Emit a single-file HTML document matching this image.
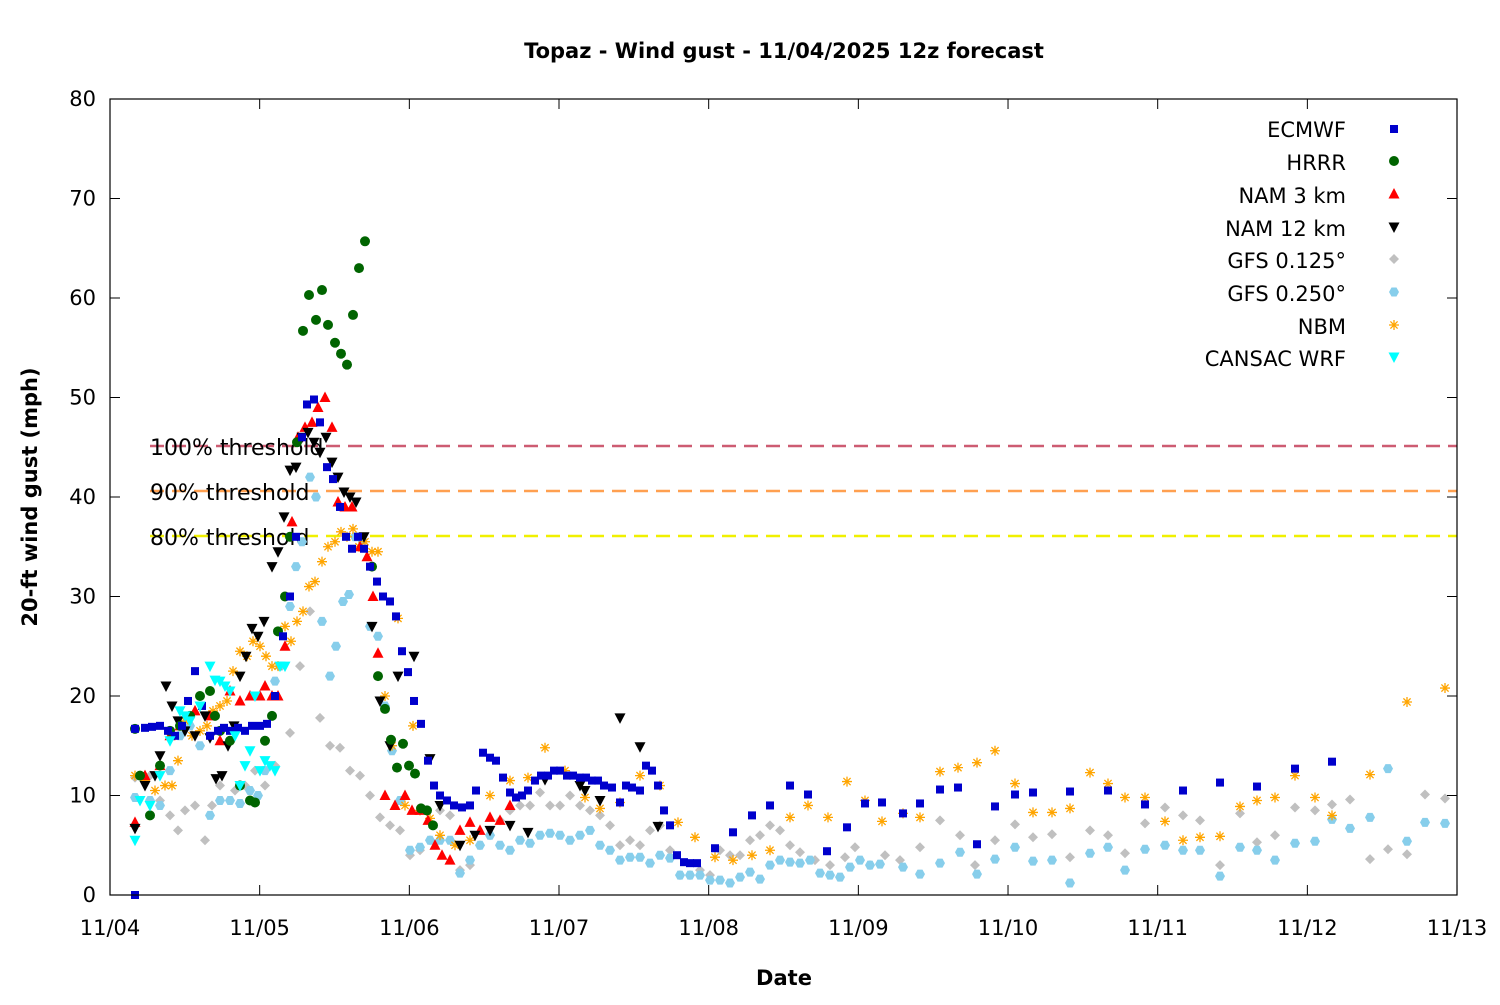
<!DOCTYPE html>
<html><head><meta charset="utf-8"><style>
html,body{margin:0;padding:0;background:#fff;}
svg text{font-family:"DejaVu Sans","Liberation Sans",sans-serif;}
</style></head><body>
<svg id="s" width="1500" height="1000" xmlns="http://www.w3.org/2000/svg">
<rect width="1500" height="1000" fill="#fff"/>
<text x="784" y="58" text-anchor="middle" font-size="21" font-weight="bold">Topaz - Wind gust - 11/04/2025 12z forecast</text>
<g id="thr">
<line x1="150" y1="446" x2="1457" y2="446" stroke="#cd5c72" stroke-width="2.5" stroke-dasharray="14,8"/>
<line x1="150" y1="491" x2="1457" y2="491" stroke="#ffa050" stroke-width="2.5" stroke-dasharray="14,8"/>
<line x1="150" y1="536" x2="1457" y2="536" stroke="#f0f000" stroke-width="2.5" stroke-dasharray="14,8"/>
<text x="150" y="455" font-size="22">100% threshold</text>
<text x="150" y="500" font-size="22">90% threshold</text>
<text x="150" y="545" font-size="22">80% threshold</text>
</g>
<g id="pts"></g>
<rect x="110" y="99" width="1347" height="796" fill="none" stroke="#000" stroke-width="1.2"/>
<g id="ax" font-size="21"></g>
<text x="784" y="985" text-anchor="middle" font-size="21" font-weight="bold">Date</text>
<text transform="translate(37,497) rotate(-90)" text-anchor="middle" font-size="21" font-weight="bold">20-ft wind gust (mph)</text>
<g font-size="21" text-anchor="end">
<text x="1346" y="137">ECMWF</text>
<text x="1346" y="170">HRRR</text>
<text x="1346" y="203">NAM 3 km</text>
<text x="1346" y="236">NAM 12 km</text>
<text x="1346" y="268">GFS 0.125°</text>
<text x="1346" y="301">GFS 0.250°</text>
<text x="1346" y="334">NBM</text>
<text x="1346" y="366">CANSAC WRF</text>
</g>
<g id="leg"></g>
</svg>
<script>
var NS="http://www.w3.org/2000/svg";
function el(p,t,a){var e=document.createElementNS(NS,t);for(var k in a)e.setAttribute(k,a[k]);p.appendChild(e);return e;}
var ax=document.getElementById('ax');
for(var v=0;v<=80;v+=10){var y=895-v*9.95;el(ax,'line',{x1:110,y1:y,x2:120,y2:y,stroke:'#000'});el(ax,'line',{x1:1447,y1:y,x2:1457,y2:y,stroke:'#000'});var t=el(ax,'text',{x:96,y:y+7,'text-anchor':'end'});t.textContent=v;}
for(var d=0;d<=9;d++){var x=110+d*149.67;el(ax,'line',{x1:x,y1:895,x2:x,y2:885,stroke:'#000'});el(ax,'line',{x1:x,y1:99,x2:x,y2:109,stroke:'#000'});var t=el(ax,'text',{x:x,y:935,'text-anchor':'middle'});t.textContent='11/'+(d+4<10?'0':'')+(d+4);}
function mk(g,type,x,y){
 if(type=='sq')el(g,'rect',{x:x-4,y:y-4,width:8,height:8,fill:'#0000cc'});
 else if(type=='ci')el(g,'circle',{cx:x,cy:y,r:5,fill:'#006400'});
 else if(type=='up')el(g,'polygon',{points:(x-5.5)+','+(y+4.5)+' '+(x+5.5)+','+(y+4.5)+' '+x+','+(y-6),fill:'#ff0000'});
 else if(type=='dn')el(g,'polygon',{points:(x-5.5)+','+(y-4.5)+' '+(x+5.5)+','+(y-4.5)+' '+x+','+(y+6),fill:'#000'});
 else if(type=='cy')el(g,'polygon',{points:(x-5.5)+','+(y-4.5)+' '+(x+5.5)+','+(y-4.5)+' '+x+','+(y+6),fill:'#00ffff'});
 else if(type=='di')el(g,'polygon',{points:x+','+(y-5)+' '+(x+5)+','+y+' '+x+','+(y+5)+' '+(x-5)+','+y,fill:'#c0c0c0'});
 else if(type=='hx')el(g,'polygon',{points:(x-5)+','+y+' '+(x-2.5)+','+(y-4.5)+' '+(x+2.5)+','+(y-4.5)+' '+(x+5)+','+y+' '+(x+2.5)+','+(y+4.5)+' '+(x-2.5)+','+(y+4.5),fill:'#87ceeb'});
 else if(type=='st'){var c='#ffa500',s=5;el(g,'path',{d:'M'+(x-s)+' '+y+'H'+(x+s)+'M'+x+' '+(y-s)+'V'+(y+s)+'M'+(x-3.6)+' '+(y-3.6)+'L'+(x+3.6)+' '+(y+3.6)+'M'+(x-3.6)+' '+(y+3.6)+'L'+(x+3.6)+' '+(y-3.6),stroke:c,'stroke-width':1.3,fill:'none'});}
}
function P(s){return s.trim().split(/,\s*|\s+/).map(function(p){var a=p.split(':');return [+a[0],+a[1]];});}
var D={
di:"135:11.8 150:12 160:9.5 170:8 178:6.5 185:8.5 195:9 205:5.5 212:9 220:11 235:10.5 245:11 255:12.5 265:11 275:13 290:16.3 300:23 310:28.5 320:17.8 330:15 340:14.8 350:12.5 360:12 370:10 380:7.8 390:7 400:6.5 410:4 420:4.5 430:5.5 440:8.5 450:8 460:2.5 470:3 480:5 490:6 500:7.5 510:8.5 520:9 530:9 540:10.3 550:9 560:9 570:10 580:9 590:8.5 600:8 610:7 620:5 630:5.5 640:5 650:6.5 660:7 670:4.5 680:2 690:2 700:2.5 710:2 720:4.5 730:4 740:4 750:5.5 760:6 770:7 780:6.5 790:5 800:4.3 815:3.5 830:3 845:3.8 855:4.8 870:3 885:4 900:3.5 920:4.8 940:7.5 960:6 975:3 995:5.5 1015:7.1 1033:5.8 1052:6.1 1070:3.8 1090:6.5 1108:6 1125:4.2 1145:7.2 1165:8.8 1183:8 1200:7.5 1220:3 1240:8.2 1257:5.3 1275:6 1295:8.8 1315:8.5 1332:9.1 1350:9.6 1370:3.6 1388:4.6 1407:4.1 1425:10.1 1445:9.7",
hx:"135:9.8 150:9.5 160:9 170:12.5 180:16 190:17 200:15 210:8 220:9.5 230:9.5 240:9.2 250:10.5 258:10 265:12.5 275:21.5 280:23 290:29 296:33 302:35.5 310:42 316:40 322:27.5 330:22 336:25 343:29.5 349:30.2 355:36 362:35.7 370:27 378:26 385:19 392:14.5 400:9.5 410:4.5 420:4.8 430:5.5 440:5.5 450:5.5 460:2.2 470:3.5 480:5 490:6 500:5 510:4.5 520:5.5 530:5.2 540:6 550:6.2 560:6 570:5.5 580:6 590:6.5 600:5 610:4.5 620:3.5 630:3.8 640:3.8 650:3.2 660:4 670:3.7 680:2 690:2 700:2 710:1.5 720:1.5 730:1.2 740:1.8 750:2.3 760:1.6 770:3 780:3.5 790:3.3 800:3.2 810:3.5 820:2.2 830:2 840:1.8 850:2.8 860:3.5 870:3 880:3.1 903:2.8 920:2.1 940:3.2 960:4.3 977:2.1 995:3.6 1015:4.8 1033:3.4 1052:3.5 1070:1.2 1090:4.2 1108:4.8 1125:2.5 1145:4.6 1165:5 1183:4.5 1200:4.5 1220:1.9 1240:4.8 1257:4.5 1275:3.5 1295:5.2 1315:5.4 1332:7.6 1350:6.7 1370:7.8 1388:12.7 1407:5.4 1425:7.3 1445:7.2",
st:"135:12 145:11.5 155:10.5 165:11 172:11 178:13.5 185:17.5 192:16 200:16.5 207:17 213:18.5 220:19 227:19.5 233:22.5 240:24.5 247:24 253:25.5 260:25 266:24 272:23 278:23 285:27 291:25.5 297:27.5 303:28.5 309:31 315:31.5 322:33.5 328:35 335:35.5 341:36.5 347:36 353:36.8 359:35 365:35.5 372:34.5 378:34.5 385:20 392:15 398:27.8 405:9 413:17 420:8.5 430:7.7 440:6 455:5 470:5.5 490:10 510:11.5 528:11.8 545:14.8 565:12.5 585:9.8 600:8.7 620:9.3 640:12 660:11 678:7.3 695:5.8 715:3.8 733:3.5 752:4 770:4.5 790:7.8 808:9 828:7.8 847:11.4 865:9.5 882:7.4 903:8.2 920:7.8 940:12.4 958:12.8 977:13.3 995:14.5 1015:11.2 1033:8.3 1052:8.3 1070:8.7 1090:12.3 1108:11.2 1125:9.8 1145:9.8 1165:7.4 1183:5.5 1200:5.8 1220:5.9 1240:8.9 1257:9.5 1275:9.8 1295:12 1315:9.8 1332:8 1370:12.1 1407:19.4 1445:20.8",
up:"135:7.3 145:12 160:13 170:16 180:17 195:18.5 210:18 220:15.5 230:20.5 240:19.5 250:20 260:20 265:21 272:20 278:20 285:25 292:37.5 298:46 305:47 312:47.5 318:49 325:50 332:47 338:39.5 345:39 352:39 360:35 367:34 373:30 378:24.3 385:10 395:9 405:10 412:8.5 420:8.5 428:7.5 435:5 442:4 450:3.5 460:6.5 470:7.3 480:6.5 490:7.8 500:7.5 510:9",
dn:"135:6.7 145:11 155:12 160:14 166:21 172:19 178:17.5 185:16.5 195:16 205:18 210:15.8 216:11.7 222:12 228:15 234:17 240:22 246:24 252:26.8 258:26 264:27.5 272:33 278:34.5 284:38 290:42.7 296:43 302:46 308:46.5 314:45.5 320:44.5 326:46 332:43.5 338:42 344:40.5 350:40 356:39.5 364:36 372:27 380:19.5 390:15 398:22 414:24 430:13.7 440:9 460:5 475:6 490:6.5 510:7 528:6.3 545:11.6 580:11 585:10.5 600:9.5 620:17.8 640:14.9 658:6.9",
ci:"135:16.7 140:12 150:8 160:13 170:16.5 180:17 190:18 200:20 210:20.5 215:18 220:16.5 230:15.5 240:11 250:9.5 255:9.3 265:15.5 272:18 278:26.5 285:30 290:36 297:45.5 303:56.7 309:60.3 316:57.8 322:60.8 328:57.3 335:55.5 341:54.4 347:53.3 353:58.3 359:63 365:65.7 372:33 378:22 385:18.7 391:15.6 397:12.8 403:15.2 409:13 415:12.2 421:8.7 427:8.5 433:7",
sq:"135:0 135:16.7 145:16.8 152:16.9 160:17 168:16.5 175:16 182:17 188:19.5 195:22.5 202:19 210:16 218:16.5 224:16.8 230:16.5 238:16.8 245:16.5 252:17 260:17 267:17.2 275:20 283:26 290:30 296:36 302:46 307:49.3 314:49.8 320:47.5 327:43 333:41.8 340:39 346:36 352:34.8 358:36 364:34.8 370:33 377:31.5 383:30 390:29.5 396:28 402:24.5 408:22.4 414:19.5 421:17.2 428:13.5 434:11 440:10 447:9.5 454:9 462:8.8 470:9 476:10.5 483:14.3 490:13.8 496:13.5 503:11.8 510:10.3 516:9.8 522:10 528:10.5 535:11.5 541:12 548:12 554:12.5 560:12.5 567:12 573:12 580:11.8 586:11.8 592:11.5 598:11.5 604:11 612:10.8 620:9.3 626:11 632:10.8 640:10.5 646:13 652:12.5 658:11 664:8.5 670:7 677:4 684:3.3 690:3.2 697:3.2 715:4.7 733:6.3 752:8 770:9 790:11 808:10.1 827:4.4 847:6.8 865:9.2 882:9.3 903:8.2 920:9.2 940:10.6 958:10.8 977:5.1 995:8.9 1015:10.1 1033:10.3 1070:10.4 1108:10.5 1145:9.1 1183:10.5 1220:11.3 1257:10.9 1295:12.7 1332:13.4",
cy:"135:5.5 140:9.5 150:9 160:12 170:15.5 180:18.5 185:18 190:17.5 200:19 210:23 215:21.6 220:21.5 225:21 230:20.5 235:16 240:11 245:13 250:14.5 255:20 260:12.5 265:13.5 270:13 275:12.5 280:23 285:23"
};
var g=document.getElementById('pts');
['di','hx','st','up','dn','ci','sq','cy'].forEach(function(k){P(D[k]).forEach(function(p){mk(g,k,p[0],895-p[1]*9.95);});});
var lg=document.getElementById('leg');
[['sq',129],['ci',161],['up',194],['dn',227],['di',259],['hx',292],['st',325],['cy',357]].forEach(function(a){mk(lg,a[0],1394,a[1]);});
</script>
</body></html>
